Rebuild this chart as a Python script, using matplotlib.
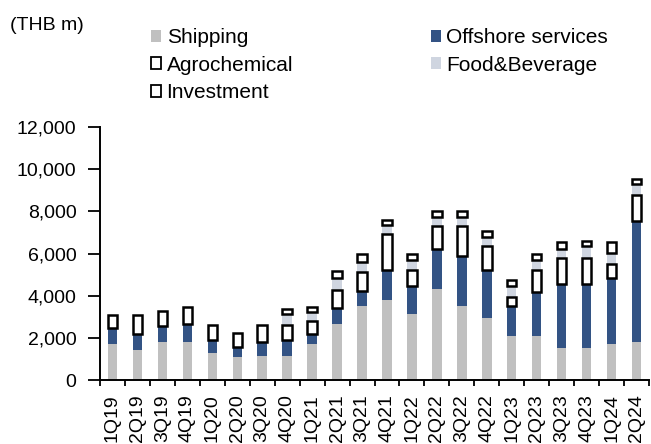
"""Quarterly revenue breakdown by segment (THB m), stacked bars."""
import numpy as np
import matplotlib.pyplot as plt
from matplotlib.patches import Patch

plt.rcParams["font.family"] = ["Liberation Sans", "DejaVu Sans"]

quarters = ["1Q19", "2Q19", "3Q19", "4Q19", "1Q20", "2Q20", "3Q20", "4Q20",
            "1Q21", "2Q21", "3Q21", "4Q21", "1Q22", "2Q22", "3Q22", "4Q22",
            "1Q23", "2Q23", "3Q23", "4Q23", "1Q24", "2Q24"]
shipping = [1700, 1435, 1825, 1825, 1260, 1070, 1150, 1150, 1700, 2670, 3505,
            3775, 3115, 4335, 3505, 2925, 2095, 2095, 1515, 1515, 1700, 1810]
offshore = [785, 765, 735, 845, 660, 475, 675, 770, 500, 730, 740,
            1425, 1330, 1885, 2355, 2275, 1410, 2085, 3045, 3045, 3140, 5725]
agrochemical = [595, 880, 710, 785, 690, 705, 785, 690, 600, 890, 875,
                1710, 785, 1085, 1445, 1160, 425, 1050, 1225, 1225, 675, 1255]
food_beverage = [0, 0, 0, 0, 0, 0, 0, 500, 440, 550, 500,
                 440, 440, 440, 440, 440, 515, 440, 440, 550, 500, 520]
investment = [0, 0, 0, 0, 0, 0, 0, 250, 215, 310, 345,
              235, 300, 285, 285, 285, 315, 300, 315, 280, 520, 235]

C_SHIP = "#c0c0c0"
C_OFF = "#335384"
C_FOOD = "#cfd5e0"

fig = plt.figure(figsize=(6.51, 4.44), dpi=100)
ax = fig.add_axes([100 / 651, 64 / 444, 549 / 651, 253 / 444])

x = np.arange(len(quarters))
w = 0.38
ship = np.array(shipping, float)
off = np.array(offshore, float)
agro = np.array(agrochemical, float)
food = np.array(food_beverage, float)
inv = np.array(investment, float)

ax.bar(x, ship, w, color=C_SHIP, zorder=2)
ax.bar(x, off, w, bottom=ship, color=C_OFF, zorder=2)
b1 = ship + off
ax.bar(x, agro, w, bottom=b1, facecolor="white", edgecolor="black",
       linewidth=1.8, zorder=3)
b2 = b1 + agro
ax.bar(x, food, w, bottom=b2, color=C_FOOD, zorder=2)
b3 = b2 + food
mask = inv > 0
ax.bar(x[mask], inv[mask], w, bottom=b3[mask], facecolor="white",
       edgecolor="black", linewidth=1.8, zorder=3)

ax.set_xlim(-0.5, len(quarters) - 0.5)
ax.set_ylim(0, 12000)
ax.set_yticks(range(0, 12001, 2000))
ax.set_yticklabels([f"{v:,}" for v in range(0, 12001, 2000)], fontsize=14)
ax.set_xticks(np.arange(-0.5, len(quarters), 1.0))
ax.set_xticklabels([])
ax.set_xticks(x, minor=True)
ax.set_xticklabels(quarters, minor=True, rotation=90, fontsize=14)
ax.tick_params(axis="x", which="major", direction="out", length=4.5, width=1.3)
ax.tick_params(axis="x", which="minor", length=0, pad=10.5)
ax.tick_params(axis="y", direction="out", length=9, width=1.3, pad=8)
for s in ("top", "right"):
    ax.spines[s].set_visible(False)
for s in ("left", "bottom"):
    ax.spines[s].set_linewidth(1.4)

handles = [
    Patch(facecolor=C_SHIP, edgecolor="none", label="Shipping"),
    Patch(facecolor="white", edgecolor="black", linewidth=1.3, label="Agrochemical"),
    Patch(facecolor="white", edgecolor="black", linewidth=1.3, label="Investment"),
    Patch(facecolor=C_OFF, edgecolor="none", label="Offshore services"),
    Patch(facecolor=C_FOOD, edgecolor="none", label="Food&Beverage"),
]
fig.legend(handles=handles, ncol=2, loc="upper left",
           bbox_to_anchor=(151 / 651, 1 - 28 / 444), frameon=False,
           fontsize=15, handlelength=0.5, handleheight=0.5,
           handletextpad=0.25, labelspacing=0.42, columnspacing=6.6,
           borderaxespad=0, borderpad=0)

fig.text(10 / 651, 1 - 25 / 444, "(THB m)", fontsize=14, va="center")

fig.savefig("out.png", dpi=100)
